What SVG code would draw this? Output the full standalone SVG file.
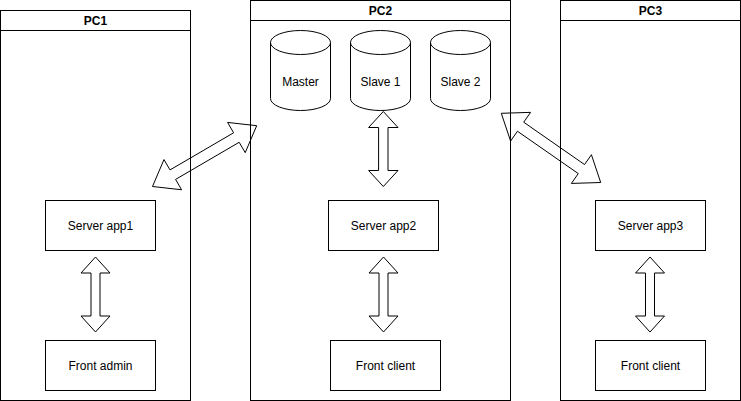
<svg xmlns="http://www.w3.org/2000/svg" width="741" height="401" viewBox="0 0 741 401">
<style>
.arr{fill:#fff;stroke:#000;stroke-width:1;stroke-linejoin:miter}
.lane{fill:none;stroke:#000;stroke-width:1}
.hdr{fill:#fff;stroke:#000;stroke-width:1}
.box{fill:#fff;stroke:#000;stroke-width:1}
.cyl{fill:#fff;stroke:#000;stroke-width:1}
.t{font-family:"Liberation Sans",Arial,sans-serif;font-size:12px;fill:#000;text-anchor:middle;dominant-baseline:central}
.b{font-weight:bold}
</style>
<rect width="741" height="401" fill="#fff"/>
<g id="connectors">
<polygon class="arr" points="152.5,186.5 163.98,159.55 170.03,169.91 233.63,132.79 227.58,122.43 256.7,125.7 245.22,152.65 239.17,142.29 175.57,179.41 181.62,189.77"/>
<polygon class="arr" points="501.3,113.3 530.59,112.37 523.73,122.22 584.55,164.56 591.41,154.71 600.7,182.5 571.41,183.43 578.27,173.58 517.45,131.24 510.59,141.09"/>
<polygon class="arr" points="95.5,257 110,273 100,273 100,316 110,316 95.5,332 81,316 91,316 91,273 81,273"/>
<polygon class="arr" points="383.3,111.5 398,127.5 388,127.5 388,170.5 398,170.5 383.3,186.5 368.6,170.5 378.6,170.5 378.6,127.5 368.6,127.5"/>
<polygon class="arr" points="383.5,257 398,273 388,273 388,316 398,316 383.5,332 369,316 379,316 379,273 369,273"/>
<polygon class="arr" points="650,257 664.5,273 654.5,273 654.5,316 664.5,316 650,332 635.5,316 645.5,316 645.5,273 635.5,273"/>
</g>
<g id="pc1">
<rect class="lane" x="0.5" y="10.5" width="190" height="390"/>
<rect class="hdr" x="0.5" y="10.5" width="190" height="20"/>
<text class="t b" x="95.5" y="20.5">PC1</text>
</g>
<g id="pc2">
<rect class="lane" x="250.5" y="0.5" width="260" height="400"/>
<rect class="hdr" x="250.5" y="0.5" width="260" height="20"/>
<text class="t b" x="380.5" y="10.5">PC2</text>
</g>
<g id="pc3">
<rect class="lane" x="560.5" y="0.5" width="180" height="400"/>
<rect class="hdr" x="560.5" y="0.5" width="180" height="20"/>
<text class="t b" x="650.5" y="10.5">PC3</text>
</g>
<g id="master">
<path class="cyl" d="M270.5,42.5 A30,12 0 0 1 330.5,42.5 L330.5,98.5 A30,12 0 0 1 270.5,98.5 Z M270.5,42.5 A30,12 0 0 0 330.5,42.5"/>
<text class="t" x="300.5" y="82">Master</text>
</g>
<g id="slave1">
<path class="cyl" d="M350.5,42.5 A30,12 0 0 1 410.5,42.5 L410.5,98.5 A30,12 0 0 1 350.5,98.5 Z M350.5,42.5 A30,12 0 0 0 410.5,42.5"/>
<text class="t" x="380.5" y="82">Slave 1</text>
</g>
<g id="slave2">
<path class="cyl" d="M430.5,42.5 A30,12 0 0 1 490.5,42.5 L490.5,98.5 A30,12 0 0 1 430.5,98.5 Z M430.5,42.5 A30,12 0 0 0 490.5,42.5"/>
<text class="t" x="460.5" y="82">Slave 2</text>
</g>
<g id="server-app1">
<rect class="box" x="45.5" y="200.5" width="110" height="50"/>
<text class="t" x="100.5" y="225.5">Server app1</text>
</g>
<g id="front-admin">
<rect class="box" x="45.5" y="340.5" width="110" height="50"/>
<text class="t" x="100.5" y="365.5">Front admin</text>
</g>
<g id="server-app2">
<rect class="box" x="328.5" y="200.5" width="110" height="50"/>
<text class="t" x="383.5" y="225.5">Server app2</text>
</g>
<g id="front-client2">
<rect class="box" x="330.5" y="340.5" width="110" height="50"/>
<text class="t" x="385.5" y="365.5">Front client</text>
</g>
<g id="server-app3">
<rect class="box" x="595.5" y="200.5" width="110" height="50"/>
<text class="t" x="650.5" y="225.5">Server app3</text>
</g>
<g id="front-client3">
<rect class="box" x="595.5" y="340.5" width="110" height="50"/>
<text class="t" x="650.5" y="365.5">Front client</text>
</g>
</svg>
